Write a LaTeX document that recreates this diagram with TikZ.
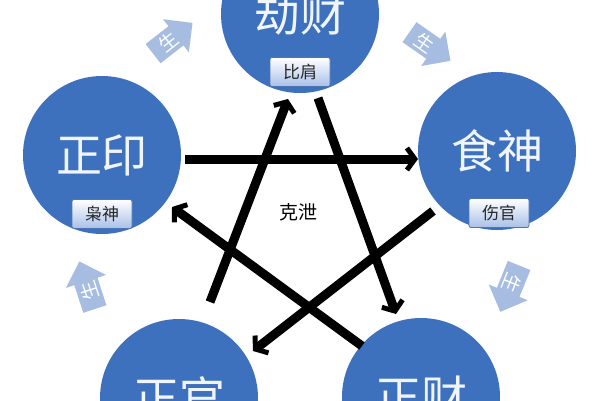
\documentclass[tikz,border=0pt]{standalone}
\usepackage{fontspec}
\newfontfamily\cjk{Noto Sans CJK SC}
\usetikzlibrary{arrows.meta,shapes.arrows}
\definecolor{circblue}{RGB}{62,113,189}
\definecolor{shengblue}{RGB}{166,188,224}
\definecolor{labbot}{RGB}{168,192,232}
\definecolor{labdraw}{RGB}{80,115,180}
\definecolor{txtwhite}{RGB}{240,245,252}
\begin{document}
\begin{tikzpicture}[x=1pt,y=-1pt,
 elem/.style={circle, fill=circblue, minimum size=158pt, inner sep=0pt, text=txtwhite, font=\cjk\fontsize{46}{46}\selectfont},
 lab/.style={rectangle, rounded corners=2pt, draw=labdraw, line width=0.8pt, top color=white, bottom color=labbot, minimum width=60pt, minimum height=29pt, inner sep=0pt, font=\cjk\fontsize{17}{17}\selectfont, text=black!85},
 ke/.style={line width=9pt, -{Straight Barb[length=8pt,width=22pt,line width=5pt]}},
 sheng/.style={single arrow, fill=shengblue, minimum height=50pt, minimum width=42pt, single arrow head extend=7pt, inner sep=1pt, text=white, font=\cjk\fontsize{19}{19}\selectfont},
 ketxt/.style={font=\cjk\fontsize{19}{19}\selectfont, text=black}
]
\useasboundingbox (0,0) rectangle (600,400);
\clip (0,0) rectangle (600,400);
\fill[white] (0,0) rectangle (600,400);

% elements
\node[elem] (jc) at (300,14) {劫财};
\node[elem] (zy) at (102,155) {正印};
\node[elem] (ss) at (497,151) {食神};
\node[elem] (zg) at (179,398) {正官};
\node[elem] (zc) at (421,397) {正财};

% labels
\node[lab] (bj) at (300,72) {比肩};
\node[lab] (xs) at (102,214) {枭神};
\node[lab] (sg) at (499,213) {伤官};

% sheng arrows
\node[sheng, rotate=38] (s1) at (168,42) {生};
\node[sheng, rotate=-35] (s2) at (425,43) {生};
\node[sheng, rotate=-112] (s3) at (512,283) {生};
\node[sheng, rotate=108] (s4) at (89,291) {生};

% ke arrows endpoints
\coordinate (a1s) at (185,159); \coordinate (a1e) at (418,159);
\coordinate (a2s) at (210,302); \coordinate (a2e) at (288,99);
\coordinate (a3s) at (318,98);  \coordinate (a3e) at (396,314);
\coordinate (a4s) at (433,211); \coordinate (a4e) at (253,351);
\coordinate (a5s) at (362,346); \coordinate (a5e) at (172,207);

\draw[ke] (a1s) -- (a1e);
\draw[ke] (a2s) -- (a2e);
\draw[ke] (a3s) -- (a3e);
\draw[ke] (a4s) -- (a4e);
\draw[ke] (a5s) -- (a5e);

\node[ketxt] (kx) at (298,212) {克泄};
\end{tikzpicture}
\end{document}
